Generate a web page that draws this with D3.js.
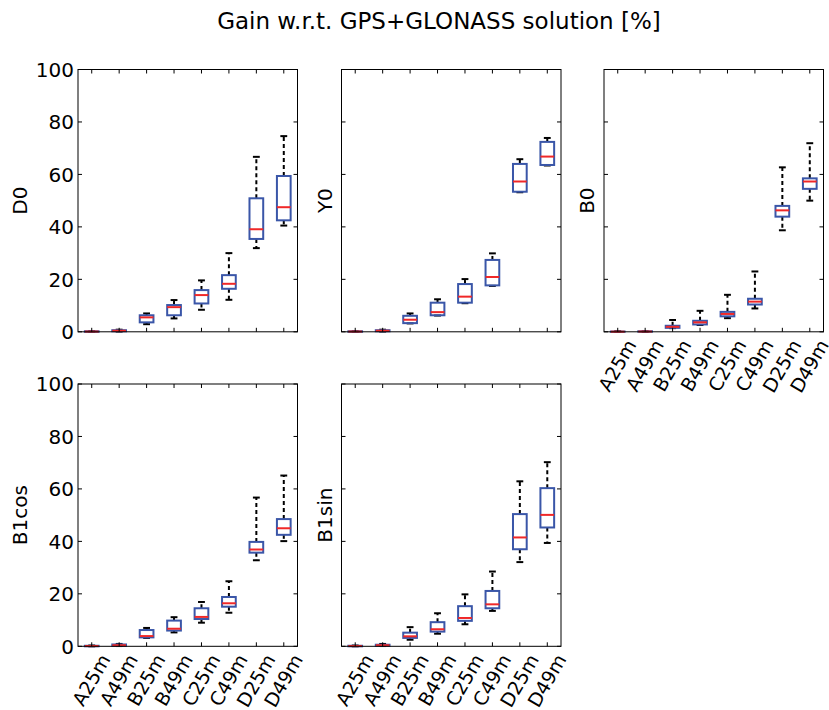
<!DOCTYPE html>
<html><head><meta charset="utf-8">
<script src="https://cdn.jsdelivr.net/npm/d3@7"></script>
<style>
body{margin:0;background:#fff}
text{font-family:"DejaVu Sans",sans-serif;fill:#000}
</style>
</head><body>
<svg id="c" width="829" height="710"></svg>
<script>
// ---- data ----
const categories = ["A25m","A49m","B25m","B49m","C25m","C49m","D25m","D49m"];
const yTicks = [0, 20, 40, 60, 80, 100];
const title = "Gain w.r.t. GPS+GLONASS solution [%]";
// each entry: [lower whisker, Q1, median, Q3, upper whisker]
const D0 = [[0,0,0.1,0.2,0.3],[0.1,0.2,0.4,0.6,0.8],[2.9,3.6,5.5,6.3,7.0],[5.1,6.3,9.4,10.2,12.1],
  [8.4,10.8,14.0,15.9,19.6],[12.2,16.4,18.3,21.6,30.0],[31.9,35.4,39.1,50.9,66.7],[40.5,42.5,47.5,59.4,74.6]];
const Y0 = [[0,0,0.1,0.2,0.3],[0.1,0.2,0.4,0.6,0.8],[3.2,3.3,4.6,6.1,7.0],[6.2,6.3,7.5,11.1,12.4],
  [10.9,11.1,13.4,18.2,20.1],[17.5,17.7,20.9,27.4,29.9],[53.2,53.4,57.3,64.0,65.8],[63.4,63.6,66.8,72.4,73.9]];
const B0 = [[0,0,0.05,0.1,0.2],[0,0.05,0.1,0.2,0.3],[1.4,1.5,1.9,2.3,4.5],[2.6,2.8,3.6,4.2,8.0],
  [5.2,5.9,6.8,7.6,14.1],[8.9,10.4,11.5,12.6,23.0],[38.7,43.9,46.3,48.0,62.7],[50.0,54.5,57.3,58.5,71.9]];
const B1cos = [[0,0,0.1,0.2,0.3],[0.1,0.2,0.4,0.7,0.9],[3.2,3.4,3.9,6.2,7.0],[5.3,6.0,6.7,9.8,11.1],
  [9.0,10.4,11.2,14.5,16.9],[12.8,15.1,16.4,18.8,24.8],[32.8,35.7,36.9,39.8,56.7],[40.1,42.5,45.0,48.5,65.1]];
const B1sin = [[0,0,0.1,0.2,0.3],[0.1,0.2,0.4,0.6,0.9],[2.5,3.2,3.8,5.2,7.3],[4.8,5.6,6.5,9.2,12.6],
  [8.4,9.7,10.8,15.3,19.8],[13.5,14.5,16.0,21.1,28.5],[32.1,37.0,41.5,50.4,62.9],[39.4,45.3,50.1,60.3,70.2]];
const panelNames = ["D0","Y0","B0","B1cos","B1sin"];
const panelData = [D0, Y0, B0, B1cos, B1sin];

// ---- layout ----
const colLeft = [78, 341.5, 604];
const rowTop = [69.5, 384];
const pw = 219.5, ph = 262.3;
const panelPos = [[0,0],[0,1],[0,2],[1,0],[1,1]];
const showXLabels = [false,false,true,true,true];

const BOX = "#3a56a8", MED = "#f02828";
const FS = 20, TFS = 20, XFS = 19, TITLE_FS = 23;

const svg = d3.select("#c");
svg.append("text").attr("x", 439).attr("y", 29).attr("text-anchor","middle")
  .style("font-size", TITLE_FS+"px").text(title);

panelData.forEach((data, i) => {
  const [r, c] = panelPos[i];
  const x0 = colLeft[c], y0 = rowTop[r];
  const g = svg.append("g").attr("transform", `translate(${x0},${y0})`);
  const x = d3.scalePoint().domain(categories).range([0, pw]).padding(0.5);
  const y = d3.scaleLinear().domain([0, 100]).range([ph, 0]);
  const step = x.step();
  const bw = step * 0.5, cw = step * 0.25;

  // boxes
  const b = g.selectAll("g.box").data(data).join("g").attr("class","box")
    .attr("transform", (d, j) => `translate(${x(categories[j])},0)`);
  b.append("line").attr("x1",0).attr("x2",0).attr("y1",d=>y(d[3])).attr("y2",d=>y(d[4]))
    .attr("stroke","#000").attr("stroke-width",2).attr("stroke-dasharray","4,3");
  b.append("line").attr("x1",0).attr("x2",0).attr("y1",d=>y(d[1])).attr("y2",d=>y(d[0]))
    .attr("stroke","#000").attr("stroke-width",2).attr("stroke-dasharray","4,3");
  b.append("line").attr("x1",-cw/2).attr("x2",cw/2).attr("y1",d=>y(d[4])).attr("y2",d=>y(d[4]))
    .attr("stroke","#000").attr("stroke-width",2);
  b.append("line").attr("x1",-cw/2).attr("x2",cw/2).attr("y1",d=>y(d[0])).attr("y2",d=>y(d[0]))
    .attr("stroke","#000").attr("stroke-width",2);
  b.append("rect").attr("x",-bw/2).attr("width",bw).attr("y",d=>y(d[3]))
    .attr("height",d=>Math.max(0.01, y(d[1])-y(d[3])))
    .attr("fill","none").attr("stroke",BOX).attr("stroke-width",2);
  b.append("line").attr("x1",-bw/2).attr("x2",bw/2).attr("y1",d=>y(d[2])).attr("y2",d=>y(d[2]))
    .attr("stroke",MED).attr("stroke-width",2);

  // frame
  g.append("rect").attr("width",pw).attr("height",ph).attr("fill","none")
    .attr("stroke","#000").attr("stroke-width",1);

  // ticks (inward, all sides)
  const tk = g.append("g").attr("stroke","#000").attr("stroke-width",1);
  yTicks.forEach(t => {
    tk.append("line").attr("x1",0).attr("x2",4).attr("y1",y(t)).attr("y2",y(t));
    tk.append("line").attr("x1",pw-4).attr("x2",pw).attr("y1",y(t)).attr("y2",y(t));
  });
  categories.forEach(cat => {
    tk.append("line").attr("x1",x(cat)).attr("x2",x(cat)).attr("y1",ph).attr("y2",ph-4);
    tk.append("line").attr("x1",x(cat)).attr("x2",x(cat)).attr("y1",0).attr("y2",4);
  });

  // y tick labels on first column
  if (c === 0) {
    g.selectAll("text.yt").data(yTicks).join("text").attr("class","yt")
      .attr("x",-4).attr("y",d=>y(d)).attr("dy","0.36em").attr("text-anchor","end")
      .style("font-size",TFS+"px").text(d=>d);
  }
  // y label
  const ylx = c === 0 ? -58 : -17;
  g.append("text").attr("transform",`translate(${ylx},${ph/2}) rotate(-90)`)
    .attr("text-anchor","middle").attr("dy","0.36em").style("font-size",FS+"px").text(panelNames[i]);

  // x labels rotated
  if (showXLabels[i]) {
    categories.forEach(cat => {
      const t = g.append("text").style("font-size",XFS+"px").attr("text-anchor","middle")
        .attr("dy","0.36em").text(cat);
      const w = t.node().getComputedTextLength();
      const h = XFS * 0.73;
      const a = Math.PI/3;
      const H = w*Math.sin(a) + h*Math.cos(a);
      t.attr("transform",`translate(${x(cat) - 0.5},${ph + 6 + H/2}) rotate(-60)`);
    });
  }
});
</script>
</body></html>
